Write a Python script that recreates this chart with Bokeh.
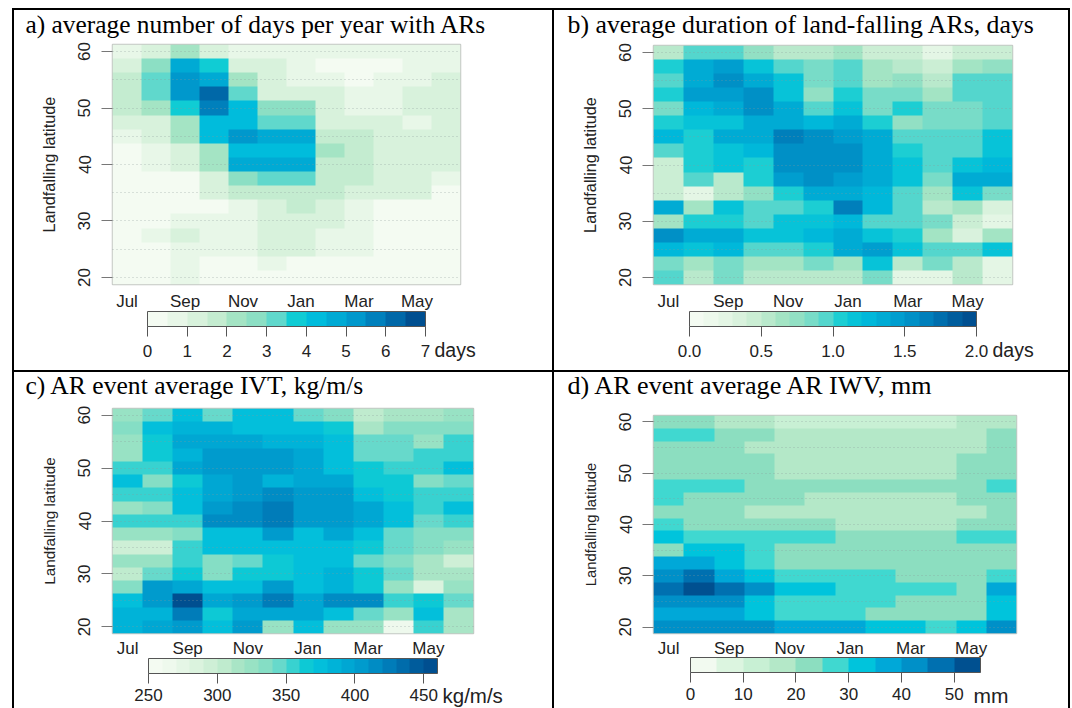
from bokeh.plotting import figure
from bokeh.layouts import row, column
from bokeh.models import (LinearColorMapper, ColorBar, FixedTicker, Grid,
                          Spacer, Title, PrintfTickFormatter, LinearAxis)
from bokeh.embed import file_html
from bokeh.resources import INLINE
import numpy as np

MONTHS = ["Jul", "Aug", "Sep", "Oct", "Nov", "Dec", "Jan", "Feb", "Mar", "Apr", "May", "Jun"]
LATS = [60, 57.5, 55, 52.5, 50, 47.5, 45, 42.5, 40, 37.5, 35, 32.5, 30, 27.5, 25, 22.5, 20]

days_per_year = [
    [0.8, 1.0, 2.0, 1.2, 0.8, 0.7, 0.6, 0.5, 0.5, 0.5, 0.5, 0.5],
    [1.2, 2.7, 4.7, 3.9, 1.2, 1.0, 0.7, 0.2, 0.3, 0.3, 0.5, 0.5],
    [1.7, 3.2, 5.4, 4.9, 2.0, 1.2, 0.9, 0.5, 0.2, 0.7, 0.8, 1.2],
    [1.7, 3.2, 5.0, 6.2, 3.2, 1.4, 1.4, 1.0, 0.7, 0.7, 1.0, 1.2],
    [1.7, 2.0, 3.9, 5.5, 4.3, 2.5, 2.5, 1.2, 0.8, 0.9, 1.0, 1.2],
    [1.2, 1.2, 2.0, 4.2, 4.3, 3.0, 3.0, 1.4, 1.0, 1.0, 0.5, 1.2],
    [0.8, 1.0, 2.0, 4.3, 5.0, 4.7, 4.5, 1.7, 1.5, 1.2, 1.2, 1.2],
    [0.3, 0.7, 1.0, 2.3, 4.4, 4.4, 4.4, 2.4, 1.5, 1.2, 1.2, 1.2],
    [0.4, 0.7, 1.0, 2.2, 4.6, 4.6, 4.5, 1.6, 1.5, 1.2, 1.2, 1.2],
    [0.2, 0.2, 0.2, 1.2, 2.8, 3.2, 3.2, 1.8, 1.5, 1.0, 1.0, 0.8],
    [0.2, 0.2, 0.2, 1.0, 1.6, 1.8, 1.9, 1.5, 1.4, 1.0, 1.0, 0.4],
    [0.1, 0.1, 0.1, 0.1, 0.5, 1.0, 1.5, 1.1, 0.6, 0.2, 0.2, 0.2],
    [0.2, 0.2, 0.6, 0.6, 0.6, 1.0, 1.0, 1.1, 0.6, 0.2, 0.2, 0.2],
    [0.3, 0.8, 1.0, 0.7, 0.7, 1.0, 1.0, 0.8, 0.7, 0.2, 0.2, 0.2],
    [0.2, 0.2, 0.6, 0.6, 0.6, 1.0, 1.0, 0.7, 0.7, 0.2, 0.2, 0.2],
    [0.2, 0.2, 0.6, 0.2, 0.2, 0.8, 0.3, 0.3, 0.3, 0.2, 0.2, 0.2],
    [0.2, 0.2, 0.6, 0.3, 0.3, 0.3, 0.3, 0.2, 0.2, 0.2, 0.2, 0.2],
]
duration_days = [
    [0.60, 0.90, 0.90, 0.75, 0.55, 0.60, 0.65, 0.45, 0.40, 0.25, 0.40, 0.45],
    [1.05, 1.35, 1.45, 1.15, 0.95, 0.80, 0.95, 0.70, 0.55, 0.40, 0.70, 0.75],
    [0.90, 1.40, 1.55, 1.40, 1.10, 0.80, 0.95, 0.70, 0.75, 0.50, 0.90, 0.90],
    [1.05, 1.45, 1.45, 1.55, 1.15, 0.75, 1.05, 0.80, 0.85, 0.70, 0.95, 0.95],
    [0.85, 1.25, 1.35, 1.50, 1.30, 0.95, 1.15, 0.85, 1.00, 0.80, 0.80, 0.95],
    [1.05, 1.20, 1.15, 1.30, 1.35, 1.25, 1.40, 1.05, 0.75, 0.80, 0.80, 0.95],
    [1.25, 1.00, 1.30, 1.40, 1.60, 1.50, 1.45, 1.40, 0.95, 0.95, 0.95, 1.10],
    [0.90, 1.05, 1.15, 1.25, 1.55, 1.55, 1.55, 1.35, 1.05, 0.95, 0.95, 1.10],
    [0.40, 1.05, 1.10, 1.05, 1.55, 1.55, 1.55, 1.35, 1.20, 0.95, 1.20, 1.25],
    [0.40, 0.90, 0.55, 1.05, 1.45, 1.55, 1.45, 1.35, 1.15, 0.80, 1.30, 1.30],
    [0.40, 0.25, 0.50, 0.75, 1.05, 1.30, 1.30, 1.25, 0.95, 0.70, 1.10, 0.85],
    [1.40, 0.70, 1.15, 0.90, 0.95, 1.00, 1.60, 1.25, 0.90, 0.50, 0.65, 0.35],
    [0.70, 1.05, 1.05, 0.95, 1.10, 1.15, 1.25, 0.95, 0.95, 0.85, 0.40, 0.30],
    [1.55, 1.35, 1.35, 1.15, 1.15, 1.25, 1.35, 1.15, 1.00, 0.70, 0.35, 0.70],
    [1.25, 1.20, 1.25, 0.90, 0.90, 1.05, 1.35, 1.45, 1.20, 0.90, 0.95, 1.20],
    [0.80, 0.65, 0.80, 0.65, 0.65, 0.80, 0.70, 1.10, 0.60, 0.80, 0.60, 0.30],
    [0.95, 0.60, 0.80, 0.50, 0.55, 0.50, 0.50, 0.85, 0.20, 0.20, 0.60, 0.25],
]
ivt = [
    [325, 345, 372, 340, 372, 372, 345, 335, 300, 310, 310, 320],
    [335, 375, 385, 385, 375, 375, 375, 362, 315, 335, 335, 335],
    [320, 368, 390, 395, 390, 380, 380, 372, 345, 345, 320, 350],
    [320, 368, 380, 400, 400, 400, 390, 372, 345, 345, 350, 350],
    [350, 350, 395, 400, 400, 400, 390, 370, 360, 350, 350, 372],
    [375, 330, 362, 392, 400, 385, 395, 395, 365, 365, 335, 345],
    [350, 350, 372, 390, 408, 418, 400, 400, 375, 365, 350, 350],
    [325, 330, 372, 400, 410, 425, 400, 400, 395, 372, 350, 375],
    [350, 352, 352, 410, 415, 425, 405, 405, 395, 372, 345, 352],
    [325, 325, 335, 375, 378, 400, 378, 398, 378, 345, 335, 335],
    [295, 295, 352, 370, 370, 378, 370, 375, 365, 340, 335, 320],
    [325, 325, 350, 330, 340, 360, 372, 372, 345, 330, 310, 295],
    [305, 345, 365, 335, 362, 362, 372, 385, 368, 345, 315, 315],
    [335, 400, 390, 378, 378, 400, 378, 380, 368, 320, 285, 325],
    [375, 405, 450, 395, 400, 425, 395, 410, 410, 352, 362, 345],
    [380, 382, 420, 365, 395, 395, 395, 375, 345, 325, 372, 310],
    [385, 395, 400, 375, 405, 325, 370, 325, 325, 265, 350, 310],
]
iwv = [
    [23, 23, 18, 18, 13, 13, 13, 13, 13, 13, 18, 18],
    [27, 27, 22, 22, 18, 18, 18, 18, 18, 18, 18, 22],
    [22, 22, 22, 18, 18, 18, 18, 18, 18, 18, 18, 22],
    [22, 22, 22, 22, 18, 18, 18, 18, 18, 18, 22, 22],
    [22, 22, 22, 22, 18, 18, 18, 18, 18, 18, 22, 22],
    [27, 27, 27, 22, 22, 22, 22, 22, 22, 22, 22, 27],
    [27, 22, 22, 22, 22, 18, 18, 18, 18, 18, 22, 22],
    [22, 22, 22, 18, 18, 18, 18, 18, 18, 18, 18, 22],
    [27, 22, 22, 22, 22, 22, 18, 18, 18, 18, 22, 22],
    [32, 27, 27, 27, 27, 27, 22, 22, 22, 22, 27, 27],
    [22, 32, 32, 27, 22, 22, 22, 22, 22, 22, 22, 22],
    [37, 37, 32, 27, 22, 22, 22, 22, 22, 22, 22, 22],
    [42, 47, 37, 32, 27, 27, 27, 27, 22, 22, 22, 27],
    [47, 53, 47, 42, 32, 32, 27, 27, 27, 27, 22, 37],
    [42, 42, 42, 32, 27, 27, 27, 27, 22, 22, 22, 32],
    [37, 37, 37, 32, 27, 27, 27, 22, 22, 22, 22, 32],
    [42, 42, 42, 42, 38, 38, 38, 32, 32, 27, 32, 42],
]

ANCHORS = ["#f4fbf2", "#e8f7e8", "#d8f2dc", "#c4ecd0", "#a4e4c4", "#8cdfc4", "#60d8cc",
           "#10ccd4", "#00bcdc", "#00aad4", "#0098cc", "#0080bc", "#0068a8", "#004f90"]
PAL_D = ["#f2faf0", "#dcf5e0", "#c8f0d4", "#b4e8c8", "#8cdec0", "#40d8d0",
         "#00c4dc", "#00a8d8", "#0090c8", "#0070b0", "#005090"]


def resample(n):
    rgb = np.array([[int(c[i:i + 2], 16) for i in (1, 3, 5)] for c in ANCHORS], float)
    pos = (np.arange(len(ANCHORS)) + 0.5) / len(ANCHORS)
    q = (np.arange(n) + 0.5) / n
    out = np.column_stack([np.interp(q, pos, rgb[:, k]) for k in range(3)])
    return ["#%02x%02x%02x" % tuple(int(round(v)) for v in c) for c in out]


def gap(n):
    """A blank title, used only to hold a band of n pixels between stacked side panels."""
    return Title(text=" ", standoff=n, text_font_size="1px")


def panel(title, matrix, low, high, palette, ticks, unit, w, h, left, right, top, bottom,
          title_size, title_dx, title_gap, title_sf, ylab_size, cb_x, cb_w, cb_y, cb_sf,
          unit_x, unit_gap, unit_size, x_sf, fmt=None):
    n_cols = len(MONTHS)
    arr = np.array(matrix, dtype=float)[::-1]
    mapper = LinearColorMapper(palette=palette, low=low, high=high)

    p = figure(width=w, height=h, x_range=(0, n_cols), y_range=(18.75, 61.25), title=None,
               output_backend="svg", toolbar_location=None, frame_align=False,
               min_border_left=left, min_border_right=right, min_border_top=top,
               min_border_bottom=bottom, outline_line_color="#c4c8c4", outline_line_width=1.5,
               background_fill_color="white", border_fill_color="white",
               x_axis_type=None, y_axis_type=None)
    p.image(image=[arr], x=0, y=18.75, dw=n_cols, dh=42.5, color_mapper=mapper)

    p.add_layout(gap(title_gap), "above")
    p.add_layout(Title(text=title, align="left", offset=title_dx, standoff=title_sf,
                       vertical_align="top",
                       text_font="Liberation Serif", text_font_size=title_size,
                       text_font_style="normal", text_color="#000000"), "above")

    ya = LinearAxis(ticker=FixedTicker(ticks=[20, 30, 40, 50, 60]), axis_line_color=None,
                    major_tick_line_color="#777777", major_tick_out=11, major_tick_in=0,
                    minor_tick_line_color=None, major_label_orientation="parallel",
                    major_label_text_font="Liberation Sans", major_label_text_font_size="17px",
                    major_label_text_color="#222222", major_label_standoff=11,
                    axis_label="Landfalling latitude", axis_label_text_font="Liberation Sans",
                    axis_label_text_font_style="normal", axis_label_text_font_size=ylab_size,
                    axis_label_text_color="#222222", axis_label_standoff=18)
    p.add_layout(ya, "left")
    xa = LinearAxis(ticker=FixedTicker(ticks=[k + 0.5 for k in range(0, n_cols, 2)]),
                    major_label_overrides={k + 0.5: MONTHS[k] for k in range(0, n_cols, 2)},
                    axis_line_color=None, major_tick_line_color=None, minor_tick_line_color=None,
                    major_tick_out=0, major_tick_in=0, major_label_standoff=x_sf,
                    major_label_text_font="Liberation Sans", major_label_text_font_size="17px",
                    major_label_text_color="#222222")
    p.add_layout(xa, "below")

    g = Grid(dimension=1, ticker=FixedTicker(ticks=[20, 25, 30, 35, 40, 45, 50, 55, 60]),
             grid_line_color="#8a9a9a", grid_line_dash="1 3", grid_line_alpha=0.55,
             grid_line_width=1, level="overlay")
    p.add_layout(g)

    cb = ColorBar(color_mapper=mapper, orientation="horizontal", width=cb_w, height=15,
                  location=(cb_x, cb_y), padding=0, margin=0, background_fill_alpha=0,
                  border_line_color=None, bar_line_color="#555555", bar_line_width=1,
                  ticker=FixedTicker(ticks=ticks), major_tick_out=10, major_tick_in=0,
                  major_tick_line_color="#555555", minor_tick_line_color=None,
                  major_label_text_font="Liberation Sans", major_label_text_font_size="17px",
                  major_label_text_color="#222222", label_standoff=cb_sf)
    if fmt:
        cb.formatter = PrintfTickFormatter(format=fmt)
    p.add_layout(cb, "center")
    p.add_layout(gap(unit_gap), "below")
    p.add_layout(Title(text=unit, align="left", offset=unit_x, standoff=0,
                       text_font="Liberation Sans", text_font_size=unit_size,
                       text_font_style="normal", text_color="#222222"), "below")
    return p


a = panel("a) average number of days per year with ARs", days_per_year, 0, 7, ANCHORS,
          [0, 1, 2, 3, 4, 5, 6, 7], "days", 538, 360, 98, 92, 34, 86,
          "25.4px", -87, 3, -2, "16.3px", 35, 278, -75, 8, 322, 20, "19.5px", 7)
b = panel("b) average duration of land-falling ARs, days", duration_days, 0, 2, resample(20),
          [0, 0.5, 1, 1.5, 2], "days", 514, 360, 99, 56, 34, 86,
          "25.8px", -86, 3, -2, "16.3px", 36, 287, -75, 8, 339, 20, "19.5px", 7, fmt="%.1f")
c = panel("c) AR event average IVT, kg/m/s", ivt, 250, 460, resample(21),
          [250, 300, 350, 400, 450], "kg/m/s", 538, 336, 98, 79, 35, 75,
          "25.6px", -87, 6, -4, "15.3px", 36, 289, -70, 5, 330, 18, "20.5px", 5)
d = panel("d) AR event average AR IWV, mm", iwv, 0, 55, PAL_D,
          [0, 10, 20, 30, 40, 50], "mm", 514, 336, 99, 52, 42, 75,
          "26.1px", -86, 13, -4, "14.8px", 37, 290, -69, 5, 320, 18, "21px", 5)

BLACK = {"background-color": "black"}
def v(h):
    return Spacer(width=2, height=h, styles=BLACK)
def hl():
    return Spacer(width=1058, height=2, styles=BLACK)

page = column(Spacer(width=10, height=8),
              row(Spacer(width=12, height=10),
                  column(hl(),
                         row(v(360), a, v(360), b, v(360), spacing=0),
                         hl(),
                         row(v(336), c, v(336), d, v(336), spacing=0),
                         spacing=0),
                  spacing=0),
              spacing=0)
open("out.html", "w").write(file_html(page, INLINE))
